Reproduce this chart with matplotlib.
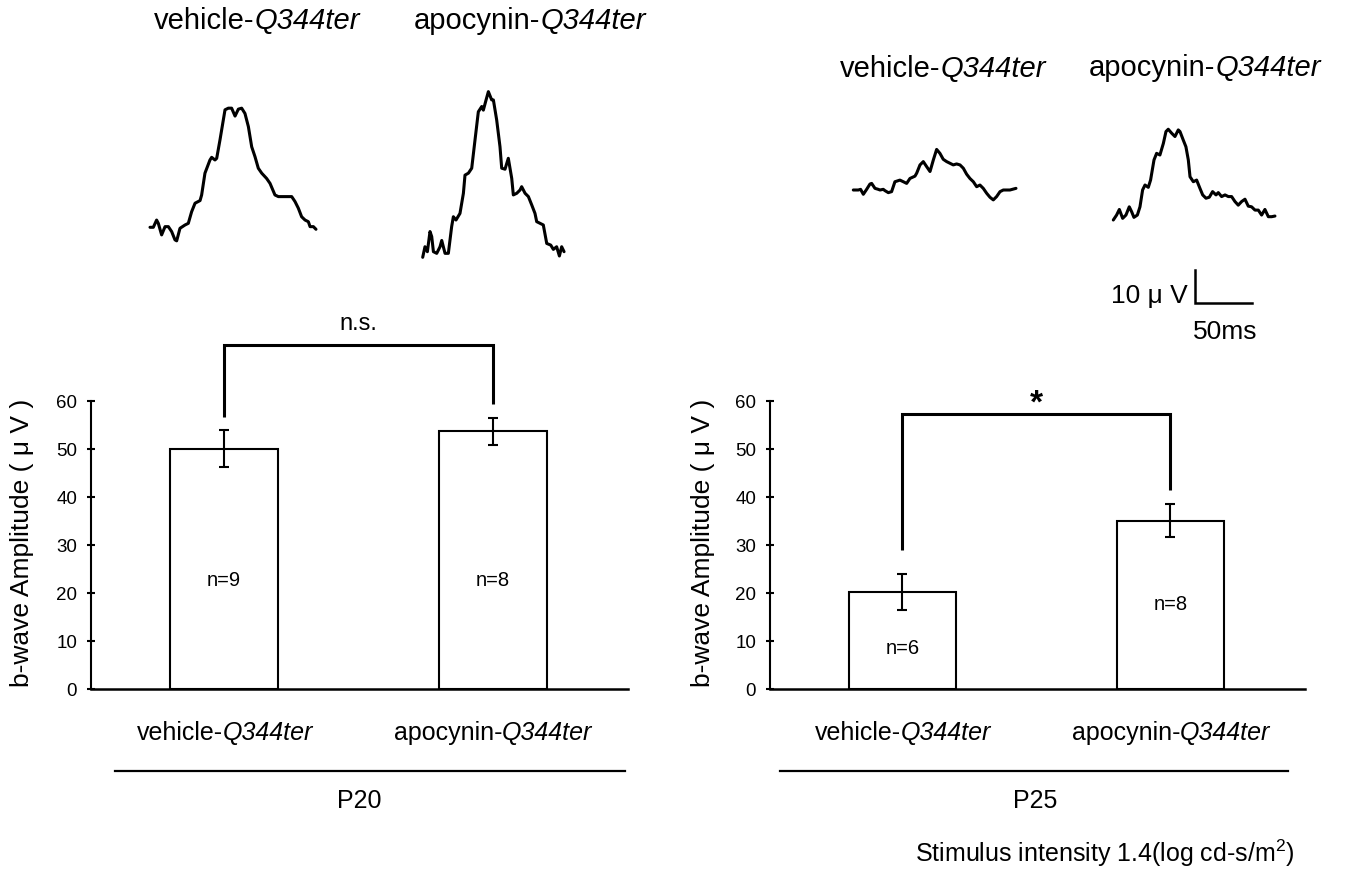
import matplotlib
matplotlib.use('Agg')
import matplotlib.pyplot as plt
from matplotlib.lines import Line2D
import numpy as np

plt.rcParams['font.family'] = ['Liberation Sans', 'DejaVu Sans']
plt.rcParams['mathtext.fontset'] = 'custom'
plt.rcParams['mathtext.rm'] = 'Liberation Sans'
plt.rcParams['mathtext.it'] = 'Liberation Sans:italic'

# ---------------- data ----------------
group_prefix = ['vehicle-', 'apocynin-']
strain = 'Q344ter'
ages = ['P20', 'P25']
yticks = [0, 10, 20, 30, 40, 50, 60]

p20_means = [50.1, 53.7]
p20_sem = [3.85, 2.8]
p20_n = ['n=9', 'n=8']
p20_n_y = [22.7, 22.7]
p20_sig = 'n.s.'
p20_bracket = [56.7, 71.6, 59.4]   # left leg end, top, right leg end

p25_means = [20.3, 35.1]
p25_sem = [3.75, 3.5]
p25_n = ['n=6', 'n=8']
p25_n_y = [8.5, 17.7]
p25_sig = '*'
p25_bracket = [28.9, 57.3, 41.5]

stim_text = 'Stimulus intensity 1.4(log cd-s/m$^{2}$)'

# ERG traces: time (ms), amplitude (uV), relative to trace start
p20_veh_t = [0, 2.9, 5.8, 7.3, 10.2, 13.2, 16.1, 19.0, 21.9, 23.4, 26.3, 30.7, 33.6, 36.5, 39.5,
             43.9, 45.3, 48.2, 52.6, 54.1, 57.0, 58.5, 61.4, 65.8, 68.7, 71.6, 74.6, 77.5, 80.4,
             83.3, 86.3, 89.2, 92.1, 95.0, 98.0, 102.3, 105.3, 109.6, 112.6, 117.0, 124.3, 127.2,
             130.1, 133.0, 136.0, 138.9, 140.4, 143.3, 145.6]
p20_veh_v = [0, 0, 2.2, 1.2, -2.3, 0.2, 0.2, -1.3, -3.8, -4.1, -0.3, 0.7, 1.2, 4.7, 7.3,
             8.1, 9.8, 16.4, 20.4, 21.2, 20.4, 20.9, 26.5, 35.6, 36.1, 36.1, 33.7, 35.8, 36.1,
             34.5, 30.5, 24.4, 21.4, 17.9, 16.4, 14.8, 13.3, 9.8, 9.3, 9.3, 9.3, 7.8,
             5.8, 3.2, 2.2, 1.7, 0.2, 0.2, -0.6]

p20_apo_t = [0, 2.0, 4.1, 6.4, 7.9, 9.4, 12.3, 15.2, 16.7, 18.1, 19.6, 22.5, 25.4, 26.9, 29.2,
             32.7, 35.7, 37.1, 40.1, 43.0, 45.9, 48.8, 51.8, 53.2, 55.6, 57.6, 60.5, 62.0, 64.9,
             67.8, 69.3, 72.2, 75.1, 78.1, 79.5, 82.5, 85.4, 86.8, 89.8, 92.7, 95.6, 98.5, 100.0,
             102.9, 105.8, 108.8, 112.3, 114.6, 117.5, 119.9, 121.9, 124.0]
p20_apo_v = [0, 3.2, 1.7, 7.8, 6.3, 1.7, 1.2, 3.2, 5.1, 3.2, 1.2, 1.2, 9.3, 12.3, 11.3,
             13.3, 19.4, 24.9, 25.5, 27.0, 35.6, 44.1, 45.7, 44.6, 47.7, 50.2, 47.7, 47.7, 41.6,
             33.5, 27.0, 26.7, 30.0, 23.9, 18.9, 19.4, 20.4, 21.4, 19.4, 18.4, 15.9, 13.3, 10.8,
             10.3, 9.8, 4.2, 3.7, 2.4, 3.2, 0.4, 3.2, 1.7]

p25_veh_t = [0, 4.4, 6.4, 8.8, 11.7, 14.6, 16.1, 19.0, 21.9, 23.4, 26.3, 27.8, 30.7, 33.6, 36.5,
             40.9, 43.9, 46.8, 49.7, 54.1, 55.6, 58.5, 61.4, 64.3, 67.3, 70.2, 73.1, 76.0, 78.9,
             81.9, 84.8, 87.7, 90.6, 93.6, 96.5, 99.4, 102.3, 105.3, 108.2, 111.1, 114.0, 117.0,
             119.9, 122.8, 125.7, 128.7, 131.6, 137.4, 142.7]
p25_veh_v = [0, 0, 0.2, -1.3, 0.2, 1.8, 2.0, 0.5, 0.2, 0, 0.2, -0.2, -0.8, -0.5, 2.5,
             3.0, 2.5, 2.0, 3.5, 4.2, 5.1, 7.6, 8.6, 7.1, 5.6, 9.1, 12.3, 11.1, 9.3,
             8.6, 8.1, 7.6, 7.9, 7.6, 6.6, 4.8, 3.5, 2.5, 1.0, 1.5, 0.5, -1.0,
             -2.2, -3.0, -2.0, -0.5, 0, 0, 0.5]

p25_apo_t = [0, 2.9, 5.3, 8.2, 11.1, 14.0, 16.1, 18.1, 21.1, 23.4, 25.7, 27.8, 30.7, 32.7, 35.7,
             38.0, 40.9, 43.9, 46.2, 48.2, 51.2, 54.1, 57.0, 58.5, 61.4, 63.7, 65.8, 67.3, 70.2,
             73.1, 76.0, 78.4, 81.3, 84.2, 87.1, 90.1, 92.1, 95.0, 98.0, 100.9, 103.8, 106.7,
             109.6, 112.6, 115.5, 118.4, 121.3, 124.3, 127.2, 130.1, 133.0, 136.0, 138.9, 141.8]
p25_apo_v = [0, 1.5, 3.2, 0.5, 1.5, 4.0, 2.5, 0.8, 1.5, 4.0, 9.1, 10.6, 9.9, 12.1, 18.2,
             20.2, 19.7, 23.2, 26.8, 27.5, 26.3, 25.3, 27.3, 26.8, 24.2, 22.2, 18.2, 13.1, 11.6,
             12.1, 9.6, 7.6, 6.6, 6.9, 8.6, 7.6, 8.3, 7.1, 7.6, 7.1, 7.1, 5.6,
             4.5, 5.6, 6.3, 4.2, 4.0, 3.0, 3.0, 1.5, 3.2, 1.0, 1.0, 1.2]

scale_uv = 10
scale_ms = 50

# ---------------- layout ----------------
W, H = 1348, 874
PX_MS, PX_UV = 1.14, 3.3

fig = plt.figure(figsize=(W / 100, H / 100), dpi=100)
R = fig.canvas.get_renderer()


def fx(x):
    return x / W


def fy(y):
    return 1 - y / H


def two_part(xc, ybase, a, b, size):
    t1 = fig.text(0, 0, a, size=size, ha='left', va='baseline')
    t2 = fig.text(0, 0, b, size=size, ha='left', va='baseline', style='italic')
    w1 = t1.get_window_extent(R).width
    w2 = t2.get_window_extent(R).width
    left = xc - (w1 + w2) / 2
    t1.set_position((fx(left), fy(ybase)))
    t2.set_position((fx(left + w1), fy(ybase)))


def trace_axes(x0, y0):
    ax = fig.add_axes([0, 0, 1, 1])
    ax.set_xlim(-x0 / PX_MS, (W - x0) / PX_MS)
    ax.set_ylim((y0 - H) / PX_UV, y0 / PX_UV)
    ax.axis('off')
    ax.patch.set_alpha(0)
    return ax


def bar_panel(left, right, top, bottom, means, sems, nlabels, n_y, bracket, sig, sig_kw):
    ax = fig.add_axes([fx(left), fy(bottom), (right - left) / W, (bottom - top) / H])
    ax.patch.set_alpha(0)
    x = np.arange(len(means))
    ax.bar(x, means, width=0.40, color='white', edgecolor='black', linewidth=1.5, zorder=2)
    ax.errorbar(x, means, yerr=sems, fmt='none', ecolor='black', elinewidth=1.5,
                capsize=3.8, capthick=1.5, zorder=3)
    ax.set_xlim(-0.494, 1.502)
    ax.set_ylim(0, 60)
    for s in ['top', 'right']:
        ax.spines[s].set_visible(False)
    ax.spines['left'].set_linewidth(1.5)
    ax.spines['bottom'].set_linewidth(1.8)
    ax.set_xticks([])
    ax.set_yticks(yticks)
    ax.tick_params(axis='y', direction='inout', length=6, width=1.5, labelsize=13.5, pad=7)
    for xi, lab, yy in zip(x, nlabels, n_y):
        ax.text(xi, yy, lab, ha='center', va='center', size=14.5, zorder=4)
    ax.plot([0, 0, 1, 1], [bracket[0], bracket[1], bracket[1], bracket[2]], color='black',
            lw=2.2, clip_on=False, solid_joinstyle='miter', solid_capstyle='butt')
    ax.text(0.5, sig_kw['y'], sig, ha='center', va=sig_kw['va'], size=sig_kw['size'],
            fontweight=sig_kw.get('weight', 'normal'), clip_on=False)
    return ax


bar_panel(91, 628, 401, 689, p20_means, p20_sem, p20_n, p20_n_y, p20_bracket, p20_sig,
          dict(y=76.0, va='center', size=17))
bar_panel(770, 1305, 401, 689, p25_means, p25_sem, p25_n, p25_n_y, p25_bracket, p25_sig,
          dict(y=57.6, va='baseline', size=24, weight='bold'))

# y labels
for xc in (22, 703):
    fig.text(fx(xc), fy(543), 'b-wave Amplitude ( μ V )', rotation=90, ha='center',
             va='center', size=19)

# category labels under bars
for xc, pre in zip((225, 493), group_prefix):
    two_part(xc, 740, pre, strain, 18)
for xc, pre in zip((903, 1171), group_prefix):
    two_part(xc, 740, pre, strain, 18)

# group underlines and ages
fig.add_artist(Line2D([fx(115), fx(625)], [fy(771), fy(771)], color='black', lw=1.6))
fig.add_artist(Line2D([fx(780), fx(1288)], [fy(771), fy(771)], color='black', lw=1.6))
fig.text(fx(359), fy(808), ages[0], ha='center', va='baseline', size=18)
fig.text(fx(1035), fy(808), ages[1], ha='center', va='baseline', size=18)
fig.text(fx(915), fy(862), stim_text, ha='left', va='baseline', size=18)

# trace titles
two_part(257, 29, group_prefix[0], strain, 21)
two_part(530, 29, group_prefix[1], strain, 21)
two_part(943, 77, group_prefix[0], strain, 21)
two_part(1205, 76, group_prefix[1], strain, 21)

# traces
for (x0, y0), t, v in [((150, 227.3), p20_veh_t, p20_veh_v),
                       ((422.7, 257.3), p20_apo_t, p20_apo_v),
                       ((853.3, 190), p25_veh_t, p25_veh_v),
                       ((1113.3, 220), p25_apo_t, p25_apo_v)]:
    ax = trace_axes(x0, y0)
    ax.plot(t, v, color='black', lw=2.2, solid_joinstyle='round', solid_capstyle='round')

# scale bar
sb = trace_axes(1195, 303)
sb.plot([0, 0, scale_ms], [scale_uv, 0, 0], color='black', lw=1.8, solid_joinstyle='miter')
fig.text(fx(1188), fy(303), f'{scale_uv} μ V', ha='right', va='baseline', size=19)
fig.text(fx(1225), fy(339), f'{scale_ms}ms', ha='center', va='baseline', size=19)

fig.savefig('out.png', dpi=100, facecolor='white')
